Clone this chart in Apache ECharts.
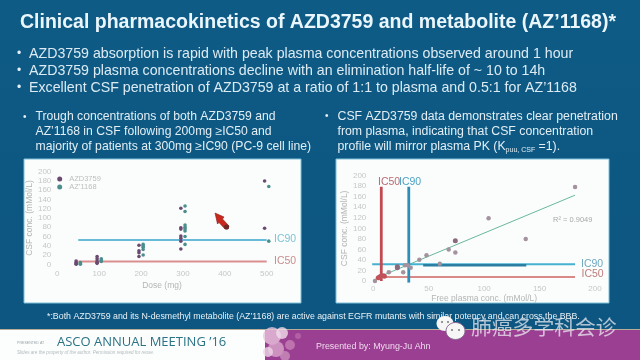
<!DOCTYPE html>
<html><head><meta charset="utf-8">
<style>html,body{margin:0;padding:0;background:#0d5a85}#c{width:640px;height:360px;filter:blur(0.5px)}</style>
<script src="https://cdn.jsdelivr.net/npm/echarts@6/dist/echarts.min.js"></script>
</head><body><div id="c"></div>
<script>
const titleText = "Clinical pharmacokinetics of AZD3759 and metabolite (AZ\u20191168)*";
const bullets = [
  "AZD3759 absorption is rapid with peak plasma concentrations observed around 1 hour",
  "AZD3759 plasma concentrations decline with an elimination half-life of ~ 10 to 14h",
  "Excellent CSF penetration of AZD3759 at a ratio of 1:1 to plasma and 0.5:1 for AZ\u20191168"
];
const leftNotes = ["Trough concentrations of both AZD3759 and","AZ\u20191168 in CSF following 200mg \u2265IC50 and","majority of patients at 300mg \u2265IC90 (PC-9 cell line)"];
const rightNotes = ["CSF AZD3759 data demonstrates clear penetration","from plasma, indicating that CSF concentration","profile will mirror plasma PK (K{s|puu, CSF} =1)."];
const footnote = "*:Both AZD3759 and its N-desmethyl metabolite (AZ\u20191168) are active against EGFR mutants with similar potency and can cross the BBB.";
const seriesNames = ["AZD3759","AZ\u20191168"];
const azd3759 = [[45,7],[45,4],[45,1.5],[45,0],[95,17],[95,12],[95,7],[95,4],[95,2],[195,41],[195,29],[195,25],[195,17],[295,121],[295,79],[295,76],[295,61],[295,56],[295,50],[295,33],[495,180],[495,78]];
const az1168 = [[55,4],[55,1.5],[55,0],[105,12],[105,9],[105,6],[205,43],[205,40],[205,37],[205,32],[205,20],[305,126],[305,114],[305,85],[305,80],[305,76],[305,72],[305,60],[305,43],[505,168],[505,50]];
const leftIC90 = [[50,52.5],[500,52.5]];
const leftIC50 = [[50,6],[500,6]];
const plasmaPoints = [[182,178.5],[104,119],[137.5,80],[74,54],[68,60],[48,49],[41.5,40.5],[60,33],[33.7,25],[27,16.5],[14,16.5],[9,11],[1.5,0],[31,30],[28.5,30]];
const plasmaDark = [[74,76.5],[21.7,27],[21.7,25]];
const plasmaRed = [[6,8],[4.5,6],[7.5,10],[10,9]];
const fitLine = [[2,5],[182,163]];
const vIC50 = [[7.2,0],[7.2,179]];
const vIC90 = [[32,-3],[32,179]];
const hIC90 = [[-1,32],[182,32]];
const hIC90Dark = [[45,30],[138,30]];
const hIC50 = [[5,7.5],[182,7.5]];
const blotches = [[272,336,9,'#e7c4dc'],[282,333,6,'#f0dcea'],[276,349,8,'#d9a8cc'],[290,345,5,'#c77fb5'],[268,352,5,'#eed6e6'],[285,356,5,'#c98fbc'],[298,336,3,'#b968a8']];

const tick = {color:'#c6c6c6',fontSize:8,fontFamily:'Liberation Sans'};
const nameStyle = {color:'#b4b4b4',fontSize:8.5,fontFamily:'Liberation Sans'};
function txt(x,y,s,size,fill,extra){return {type:'text',z:5,x:x,y:y,style:Object.assign({text:s,fontSize:size,fill:fill,fontFamily:'Liberation Sans',textVerticalAlign:'middle'},extra||{})};}
function rect(x,y,w,h,fill,extra){return {type:'rect',z:0,shape:{x:x,y:y,width:w,height:h},style:Object.assign({fill:fill},extra||{})};}
function lineS(data,color,width,xi){return {type:'line',xAxisIndex:xi,yAxisIndex:xi,data:data,symbol:'none',silent:true,clip:false,lineStyle:{color:color,width:width},z:2};}
function scat(name,data,color,size,xi){return {type:'scatter',name:name,xAxisIndex:xi,yAxisIndex:xi,data:data,symbolSize:size,clip:false,itemStyle:{color:color,opacity:1},z:4};}

const g = [];
g.push(rect(0,0,640,360,{type:'linear',x:0,y:0,x2:0,y2:1,colorStops:[{offset:0,color:'#0e5b86'},{offset:1,color:'#0c5580'}]}));
g.push(txt(20,23,titleText,19.5,'#eaf6fb',{fontWeight:'bold'}));
bullets.forEach((b,i)=>{g.push(txt(17,54+i*17,'\u2022',12,'#e6f0f6'));g.push(txt(29,54+i*17,b,14.2,'#dcebf3'));});
leftNotes.forEach((b,i)=>g.push(txt(35.5,117+i*15,b,12.2,'#e2eef4')));
g.push(txt(23,117,'\u2022',10,'#e6f0f6'));
rightNotes.forEach((b,i)=>g.push(txt(337.5,116.5+i*15.2,b,12.3,'#e2eef4',{rich:{s:{fontSize:7,fill:'#e2eef4',fontFamily:'Liberation Sans',verticalAlign:'bottom',padding:[6,0,0,0]}}})));
g.push(txt(325,116,'\u2022',10,'#e6f0f6'));
g.push(rect(24,159,277,144,'#fbfdfd',{stroke:'#7fc0d8',lineWidth:1}));
g.push(rect(336,159,273,144,'#fbfdfd',{stroke:'#7fc0d8',lineWidth:1}));
g.push(txt(47,317,footnote,8.8,'#e8f1f6'));
g.push(rect(0,329,640,31,'#9a3f92'));
g.push(rect(0,329,640,1,'#b9ad9a'));
g.push(rect(0,330,265,30,'#fcfdfd'));
blotches.forEach(b=>g.push({type:'circle',z:1,shape:{cx:b[0],cy:b[1],r:b[2]},style:{fill:b[3],opacity:.8}}));
g.push(txt(17,342.5,'PRESENTED AT',3.6,'#9aa5a8'));
g.push(txt(57,342.5,'ASCO ANNUAL MEETING \u201916',13,'#2a7386',{fontFamily:'Open Sans'}));
g.push(txt(17,353,'Slides are the property of the author. Permission required for reuse.',4.6,'#b4bcbe',{fontStyle:'italic'}));
g.push(txt(316,347,'Presented by: Myung-Ju Ahn',8.9,'#f2d8ee'));
g.push(txt(274,239,'IC90',10.5,'#7fc3d6'));
g.push(txt(274,261.5,'IC50',10.5,'#c98d8d'));
g.push(txt(378,182.5,'IC50',10.5,'#b96a70'));
g.push(txt(399,182.5,'IC90',10.5,'#4ea3c4'));
g.push(txt(581,264,'IC90',10.5,'#6fa8bf'));
g.push(txt(581.5,274.5,'IC50',10.5,'#bd7b7b'));
g.push(txt(553,220,'R\u00B2 = 0.9049',7.5,'#a8a8a8'));
g.push({type:'polygon',z:6,shape:{points:[[215,213],[224,217],[222.5,219],[229,226],[228,229],[225,229],[219,222.5],[217.5,224]]},style:{fill:'#c8281e',stroke:'#8a1c18',lineWidth:.6}});
g.push({type:'circle',z:6,shape:{cx:226.5,cy:227,r:2.5},style:{fill:'#6a2a2a'}});
g.push({type:'ellipse',z:7,shape:{cx:445,cy:323.5,rx:8.5,ry:7.5},style:{fill:'#f6f6f6'}});
g.push({type:'ellipse',z:7,shape:{cx:455.5,cy:331,rx:9.5,ry:8.5},style:{fill:'#f6f6f6',stroke:'#8a6a92',lineWidth:1}});
[[442,322],[448,322],[452,330],[459,330]].forEach(p=>g.push({type:'circle',z:8,shape:{cx:p[0],cy:p[1],r:1},style:{fill:'#777'}}));
g.push(txt(471,327,'\u80BA\u764C\u591A\u5B66\u79D1\u4F1A\u8BCA',20.8,'rgba(240,240,245,.72)',{fontFamily:'Noto Sans CJK SC'}));

const chart = echarts.init(document.getElementById('c'),null,{renderer:'canvas'});
const ax = (gi,name,max,interval,gap,margin)=>({type:'value',gridIndex:gi,name:name,nameLocation:'middle',nameGap:gap,nameTextStyle:nameStyle,min:0,max:max,interval:interval,axisLine:{show:false},axisTick:{show:false},splitLine:{show:false},axisLabel:Object.assign({margin:margin},tick)});
chart.setOption({
  animation:false,
  backgroundColor:'#0d5a85',
  graphic:{elements:g},
  legend:{data:seriesNames,orient:'vertical',left:57.2,top:175,padding:0,itemWidth:9,itemHeight:5,itemGap:0,textStyle:{color:'#bdbdbd',fontSize:7.5,fontFamily:'Liberation Sans'}},
  grid:[{left:57.3,top:171.7,width:209.4,height:92.6},{left:373.3,top:175.7,width:221.7,height:105.3}],
  xAxis:[ax(0,'Dose (mg)',500,100,16.5,5),ax(1,'Free plasma conc. (mMol/L)',200,50,13,4)],
  yAxis:[ax(0,'CSF conc. (mMol/L)',200,20,19,6),ax(1,'CSF conc. (mMol/L)',200,20,20,7)],
  series:[
    lineS(leftIC90,'#66bcd8',2,0),
    lineS(leftIC50,'#dc8f8f',2,0),
    scat(seriesNames[0],azd3759,'#6a4a70',3.6,0),
    scat(seriesNames[1],az1168,'#4a8f8c',3.6,0),
    lineS(fitLine,'#69b89c',1,1),
    lineS(hIC50,'#d98a86',2,1),
    lineS(hIC90,'#45b2d2',2,1),
    lineS(hIC90Dark,'#2a7fa2',2.6,1),
    lineS(vIC50,'#c24a50',2.8,1),
    lineS(vIC90,'#2d8fb8',2.8,1),
    scat('plasma',plasmaPoints,'#a4929e',4.5,1),
    scat('plasma dark',plasmaDark,'#8a6a7c',5,1),
    scat('plasma red',plasmaRed,'#c2525a',5,1)
  ]
});
</script></body></html>
